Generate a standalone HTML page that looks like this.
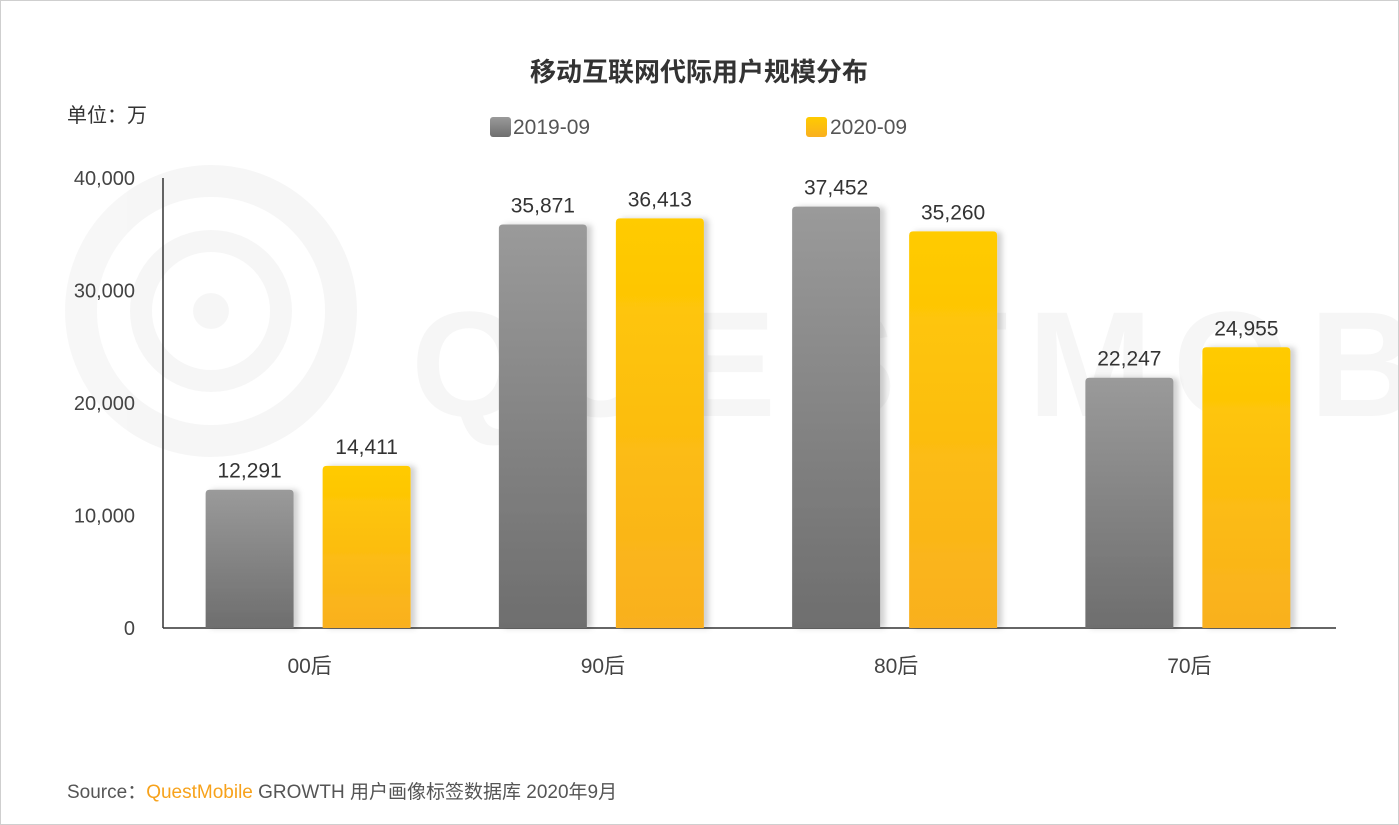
<!DOCTYPE html>
<html><head><meta charset="utf-8"><style>
body{margin:0;background:#fff;font-family:"Liberation Sans","Noto Sans CJK SC",sans-serif;}
#wrap{position:relative;width:1397px;height:823px;border:1px solid #cfcfcf;overflow:hidden;background:#fff}
</style></head><body>
<div id="wrap">
<svg id="chart" width="1397" height="823">
<defs>
<linearGradient id="gg" x1="0" y1="0" x2="0" y2="1"><stop offset="0" stop-color="#9a9a9a"/><stop offset="1" stop-color="#6e6e6e"/></linearGradient>
<linearGradient id="gy" x1="0" y1="0" x2="0" y2="1"><stop offset="0" stop-color="#ffcb00"/><stop offset="1" stop-color="#f9b020"/></linearGradient>
<filter id="sh" x="-20%" y="-5%" width="150%" height="110%"><feDropShadow dx="5" dy="0" stdDeviation="3" flood-color="#000" flood-opacity="0.18"/></filter>
</defs>
<g opacity="0.03">
<circle cx="210" cy="310" r="130" fill="none" stroke="#000" stroke-width="32"/>
<circle cx="210" cy="310" r="70" fill="none" stroke="#000" stroke-width="22"/>
<circle cx="210" cy="310" r="18" fill="#000"/>
<text x="410" y="415" font-size="150" font-weight="bold" fill="#000" letter-spacing="20">QUESTMOBILE</text>
</g>
<text x="698" y="80" text-anchor="middle" font-size="26" font-weight="bold" fill="#333">移动互联网代际用户规模分布</text>
<text x="66" y="121" font-size="20" fill="#333">单位：万</text>
<g>
<rect x="489" y="116" width="21" height="20" rx="3" fill="url(#gg)"/>
<text x="512" y="133" font-size="21" fill="#555">2019-09</text>
<rect x="805" y="116" width="21" height="20" rx="3" fill="url(#gy)"/>
<text x="829" y="133" font-size="21" fill="#555">2020-09</text>
</g>
<g id="plot"></g>
<text x="66" y="797" font-size="19" fill="#555">Source：<tspan fill="#f7a21b">QuestMobile</tspan> GROWTH 用户画像标签数据库 2020年9月</text>
</svg>
</div>
<script>
const categories=["00后","90后","80后","70后"];
const series2019=[12291,35871,37452,22247];
const series2020=[14411,36413,35260,24955];
const yTicks=[0,10000,20000,30000,40000];
const ns="http://www.w3.org/2000/svg";
const X0=162,X1=1335,Y0=627,Y1=177,YMAX=40000;
const band=(X1-X0)/categories.length;
const y=v=>Y0-(v/YMAX)*(Y0-Y1);
const plot=document.getElementById('plot');
function mk(t,a,p){const e=document.createElementNS(ns,t);for(const k in a)e.setAttribute(k,a[k]);(p||plot).appendChild(e);return e;}
yTicks.forEach(v=>{const t=mk('text',{x:134,y:y(v)+7,'text-anchor':'end','font-size':20,fill:'#444'});t.textContent=v.toLocaleString('en-US');

});
const ax=mk('line',{x1:X0,y1:Y1,x2:X0,y2:Y0,stroke:'#333','stroke-width':1.5});


const bx=mk('line',{x1:X0,y1:Y0,x2:X1,y2:Y0,stroke:'#333','stroke-width':1.5});


function bar(xl,w,v,fill){const top=y(v),r=4;
return mk('path',{d:`M${xl},${Y0}V${top+r}Q${xl},${top} ${xl+r},${top}H${xl+w-r}Q${xl+w},${top} ${xl+w},${top+r}V${Y0}Z`,fill:fill,filter:'url(#sh)'});}
categories.forEach((c,i)=>{const cx=X0+band*(i+0.5),w=88;
const b1=bar(cx-104,w,series2019[i],'url(#gg)');


const b2=bar(cx+13,w,series2020[i],'url(#gy)');


const l1=mk('text',{x:cx-60,y:y(series2019[i])-12,'text-anchor':'middle','font-size':21,fill:'#333'});l1.textContent=series2019[i].toLocaleString('en-US');


const l2=mk('text',{x:cx+57,y:y(series2020[i])-12,'text-anchor':'middle','font-size':21,fill:'#333'});l2.textContent=series2020[i].toLocaleString('en-US');


const xl=mk('text',{x:cx,y:672,'text-anchor':'middle','font-size':21,fill:'#444'});xl.textContent=c;


});
</script>
</body></html>
